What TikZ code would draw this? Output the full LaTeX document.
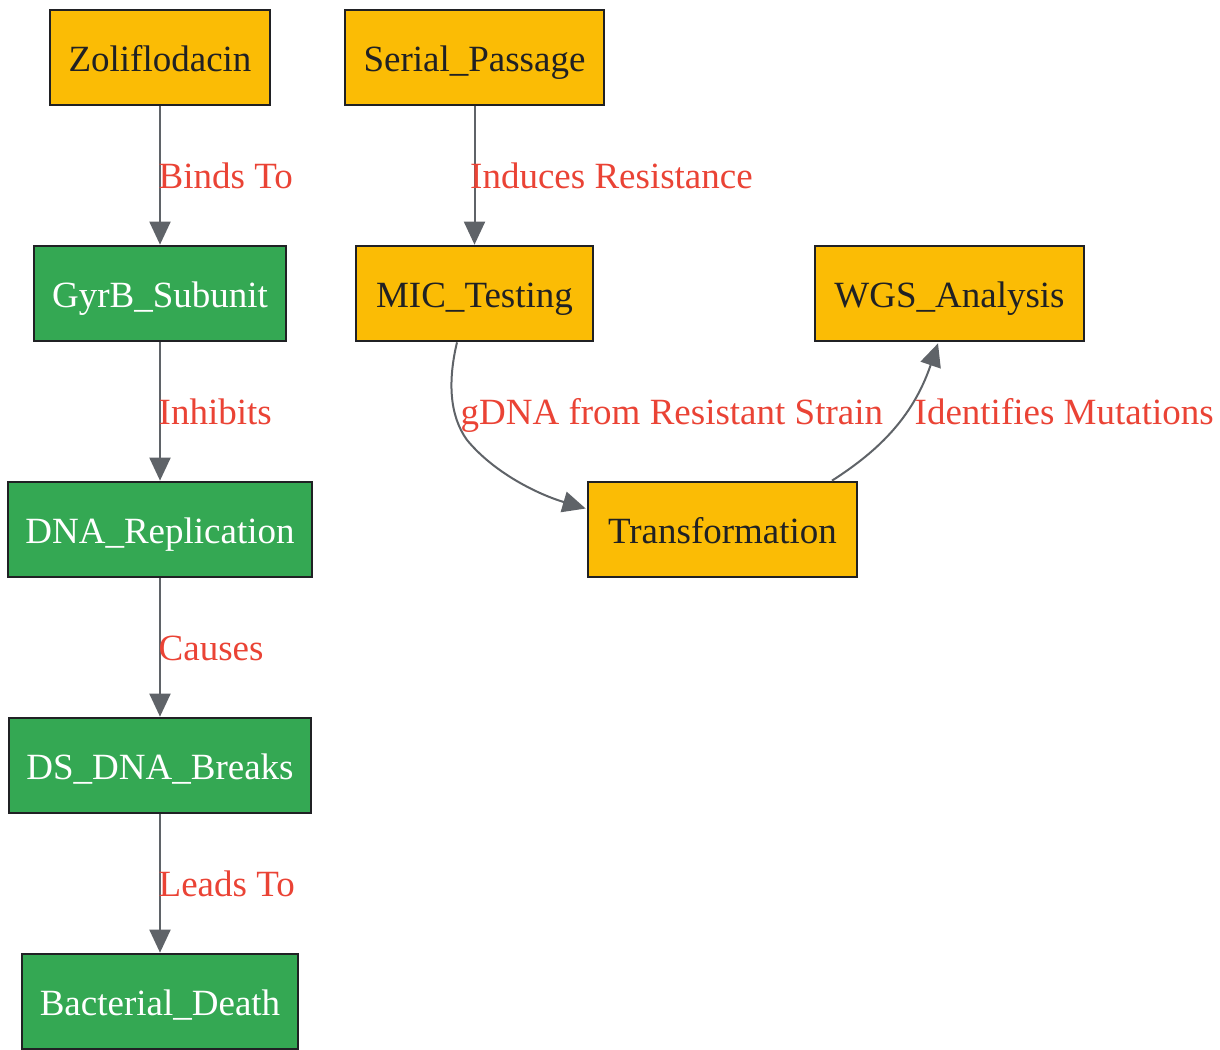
\documentclass[tikz,border=0pt]{standalone}
\usepackage{fontspec}
\setmainfont{Liberation Serif}
\usetikzlibrary{arrows.meta,calc}
\definecolor{gyellow}{HTML}{FBBC05}
\definecolor{ggreen}{HTML}{34A853}
\definecolor{gdark}{HTML}{202124}
\definecolor{gedge}{HTML}{5F6368}
\definecolor{glabel}{HTML}{EA4335}
\tikzset{
  box/.style={draw=gdark, line width=2.7pt, rectangle, minimum height=95pt, inner sep=0pt,
    text height=27pt, text depth=0pt, font=\fontsize{37}{44}\selectfont},
  ybox/.style={box, fill=gyellow, text=gdark},
  gbox/.style={box, fill=ggreen, text=white},
  conn/.style={draw=gedge, line width=2pt, -{Triangle[length=23pt,width=21pt]}},
  elabel/.style={anchor=base west, inner sep=0pt, text=glabel, font=\fontsize{37}{44}\selectfont}
}
\begin{document}
\begin{tikzpicture}[x=1pt,y=-1pt]
\useasboundingbox (0,0) rectangle (1220,1049);
\node[ybox, minimum width=220pt] (zol) at (160,57.5) {Zoliflodacin};
\node[ybox, minimum width=259pt] (ser) at (474.5,57.5) {Serial\_Passage};
\node[gbox, minimum width=252pt] (gyr) at (160,293.5) {GyrB\_Subunit};
\node[ybox, minimum width=237pt] (mic) at (474.5,293.5) {MIC\_Testing};
\node[ybox, minimum width=269pt] (wgs) at (949.5,293.5) {WGS\_Analysis};
\node[gbox, minimum width=304pt] (dna) at (160,529.5) {DNA\_Replication};
\node[ybox, minimum width=269pt] (tra) at (722.5,529.5) {Transformation};
\node[gbox, minimum width=302pt] (dsb) at (160,765.5) {DS\_DNA\_Breaks};
\node[gbox, minimum width=276pt] (bac) at (160,1001.5) {Bacterial\_Death};

\draw[conn] (zol) -- (gyr);
\draw[conn] (ser) -- (mic);
\draw[conn] (gyr) -- (dna);
\draw[conn] (dna) -- (dsb);
\draw[conn] (dsb) -- (bac);

\coordinate (m1) at ($(mic.south)+(-17.5,0)$);
\coordinate (t1) at ($(tra.west)+(-1,-21)$);
\draw[conn] (m1) .. controls (448,380) and (449,415) .. (467,440) .. controls (495,474) and (540,495) .. (t1);

\coordinate (t2) at ($(tra.north)+(109.5,0)$);
\coordinate (w1) at ($(wgs.south)+(-11.5,1)$);
\draw[conn] (t2) .. controls (875,453) and (912,420) .. (w1);

\node[elabel] (l1) at (158.5,188) {Binds To};
\node[elabel] (l2) at (470,188) {Induces Resistance};
\node[elabel] (l3) at (158.5,424) {Inhibits};
\node[elabel] (l4) at (460.5,424) {gDNA from Resistant Strain};
\node[elabel] (l5) at (914.5,424) {Identifies Mutations};
\node[elabel] (l6) at (158.5,660) {Causes};
\node[elabel] (l7) at (158.5,896) {Leads To};
\end{tikzpicture}
\end{document}
